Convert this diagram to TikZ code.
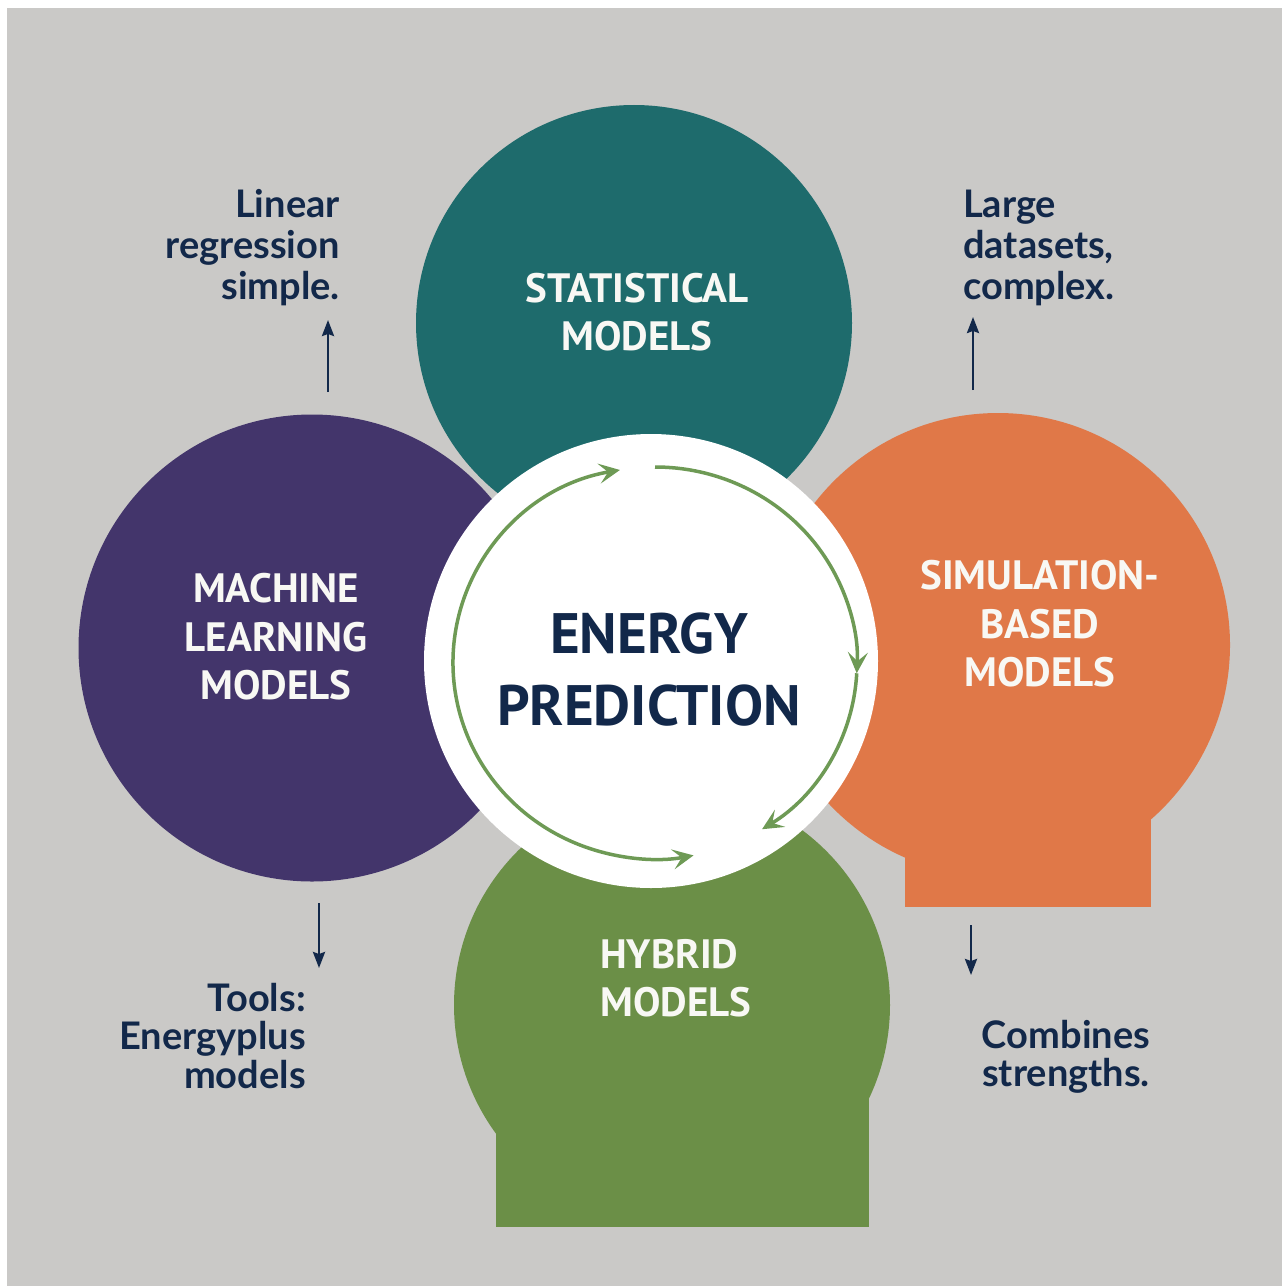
\documentclass[tikz,border=0pt]{standalone}
\usepackage{fontspec}
\usetikzlibrary{arrows.meta}
\newfontfamily\titlefont{PT Sans}
\newfontfamily\notefont{Lato}

\definecolor{bgcol}{HTML}{CAC9C7}
\definecolor{tealc}{HTML}{1E6B6C}
\definecolor{purplec}{HTML}{43356B}
\definecolor{orangec}{HTML}{E07848}
\definecolor{greenc}{HTML}{6B8F47}
\definecolor{ringc}{HTML}{6E9A55}
\definecolor{navyc}{HTML}{12284A}
\definecolor{lightc}{HTML}{F8F8F4}

\begin{document}
\begin{tikzpicture}[x=1pt,y=-1pt,
  disc/.style={circle,inner sep=0pt,draw=none},
  title/.style={inner sep=0pt,text=lightc,align=center,
    font=\titlefont\bfseries\fontsize{41}{48.5}\selectfont},
  core/.style={inner sep=0pt,text=navyc,align=center,
    font=\titlefont\bfseries\fontsize{57}{72}\selectfont},
  note/.style={inner sep=0pt,text=navyc,
    font=\notefont\bfseries\fontsize{38}{41}\selectfont},
  note2/.style={note,font=\notefont\bfseries\fontsize{38}{38.5}\selectfont},
  ring/.style={draw=ringc,line width=3.5pt,
    -{Stealth[length=21pt,width=20pt,inset=9pt]}},
  pointer/.style={draw=navyc,line width=2.5pt,
    -{Stealth[length=16pt,width=12pt,inset=2pt]}}]

\useasboundingbox (0,0) rectangle (1282,1287);
\fill[white] (0,0) rectangle (1282,1287);
\fill[bgcol] (7,8) rectangle (1282,1286);

% four model discs
\node[disc,fill=tealc,minimum size=436pt] (stat) at (634,323) {};
\node[disc,fill=purplec,minimum size=467pt] (ml) at (312,648) {};
\node[disc,fill=orangec,minimum size=464pt] (sim) at (998,645) {};
\fill[orangec] (905,800) rectangle (1151,907);
\node[disc,fill=greenc,minimum size=436pt] (hyb) at (672,1005) {};
\fill[greenc] (496,1050) rectangle (869,1227);

% central disc
\node[disc,fill=white,minimum size=454pt] (core) at (651,661) {};

% circular arrows
\coordinate (rc) at (655,663);
\draw[ring] ([shift={(-90:202 and 196)}]rc)
  arc[start angle=-90,end angle=3,x radius=202,y radius=196];
\draw[ring] ([shift={(3:202 and 196)}]rc)
  arc[start angle=3,end angle=58,x radius=202,y radius=196];
\draw[draw=ringc,line width=3.5pt,
  {Stealth[length=21pt,width=20pt,inset=9pt]}-{Stealth[length=21pt,width=20pt,inset=9pt]}]
  ([shift={(-100:202 and 196)}]rc)
  arc[start angle=-100,end angle=-281,x radius=202,y radius=196];

% labels
\node[title] (statT) at (637,312) {STATISTICAL\\MODELS};
\node[title] (mlT) at (276,637) {MACHINE\\LEARNING\\MODELS};
\node[title] (simT) at (1040,624) {SIMULATION-\\BASED\\MODELS};
\node[title,anchor=west,align=left] (hybT) at (600,978) {HYBRID\\MODELS};
\node[core] (coreT) at (649,670) {ENERGY\\PREDICTION};

% notes
\node[note,anchor=north east,align=right] (n1) at (340,189) {Linear\\regression\\simple.};
\node[note,anchor=north west,align=left] (n2) at (963,190) {Large\\datasets,\\complex.};
\node[note2,anchor=north east,align=right] (n3) at (306,983) {Tools:\\Energyplus\\models};
\node[note2,anchor=north,align=center] (n4) at (1066,1020) {Combines\\strengths.};

% pointers
\coordinate (p1a) at (328,392); \coordinate (p1b) at (328,320);
\coordinate (p2a) at (973,390); \coordinate (p2b) at (973,317);
\coordinate (p3a) at (319,903); \coordinate (p3b) at (319,968);
\coordinate (p4a) at (971,925); \coordinate (p4b) at (971,975);
\draw[pointer] (p1a) -- (p1b);
\draw[pointer] (p2a) -- (p2b);
\draw[pointer] (p3a) -- (p3b);
\draw[pointer] (p4a) -- (p4b);
\end{tikzpicture}
\end{document}
